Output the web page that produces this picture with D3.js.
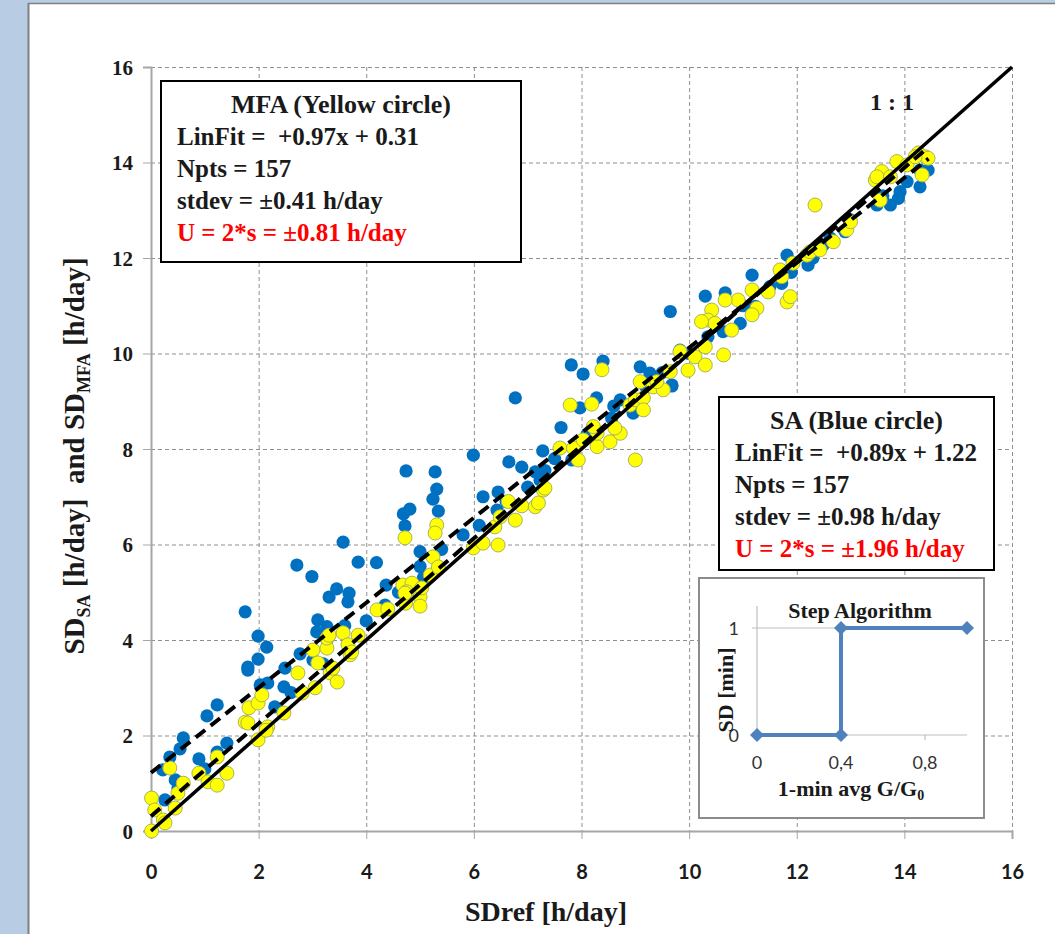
<!DOCTYPE html>
<html>
<head>
<meta charset="utf-8">
<script src="https://cdn.jsdelivr.net/npm/d3@7"></script>
<style>
  body { margin: 0; background: #ffffff; }
  svg { display: block; }
</style>
</head>
<body>
<svg id="chart" width="1055" height="934"></svg>
<script>
// ---- Sunshine duration: SA (blue) and MFA (yellow) vs reference [h/day] ----
const sdRefSA = [0.02,0.26,0.45,0.22,0.35,0.54,0.60,0.89,1.04,1.23,1.23,1.41,1.75,1.80,1.80,1.99,1.99,2.15,2.03,2.17,
  2.47,2.49,2.77,3.01,2.71,2.99,3.08,3.10,3.27,3.27,3.31,3.45,3.66,3.68,3.85,4.19,4.37,4.35,3.57,
  4.74,5.28,5.31,5.24,5.34,4.81,4.69,4.72,5.00,5.00,5.06,5.99,6.17,6.45,6.43,6.65,6.89,7.14,7.32,7.28,6.77,
  7.23,7.62,7.82,7.97,8.28,8.56,8.72,8.96,8.96,9.68,7.81,8.03,8.40,9.09,9.27,9.68,9.65,9.83,10.35,10.63,
  10.95,10.30,10.67,11.17,11.23,11.72,11.82,12.21,12.49,12.62,12.90,13.49,13.74,13.89,13.92,14.05,14.29,14.44,14.29,
  0.50,1.00,2.30,2.60,3.20,3.60,4.00,4.60,5.40,5.80,6.10,6.60,7.00,7.50,8.10,8.60,9.20,9.50,10.00,10.50,
  11.00,11.50,11.90,12.30,13.00,13.60];
const sdSA = [0.70,0.65,1.07,1.28,1.55,1.72,1.95,1.51,2.41,2.64,1.65,1.84,4.59,3.43,3.37,3.60,4.08,3.85,3.06,3.10,
  3.02,3.41,3.71,3.58,5.57,5.33,4.17,4.42,4.28,4.00,4.90,5.07,4.80,4.98,5.63,5.62,5.15,4.73,6.05,
  7.54,7.52,7.16,6.95,6.70,6.74,6.64,6.39,5.85,5.54,5.30,7.87,7.00,7.10,6.72,7.73,7.62,7.52,7.55,7.96,9.07,
  7.35,8.45,7.77,8.86,9.07,8.65,9.03,8.75,8.82,9.32,9.76,9.57,9.84,9.72,9.59,9.34,10.88,10.07,10.35,10.46,
  10.63,11.20,11.27,11.64,10.99,11.47,12.06,11.85,12.27,12.42,12.55,13.11,13.11,13.25,13.39,13.60,13.49,13.84,13.84,
  0.90,1.30,2.60,2.90,3.50,4.30,4.40,5.00,5.90,6.20,6.40,6.90,7.20,7.80,8.30,8.90,9.30,9.60,10.00,10.60,
  11.00,11.40,11.70,12.00,12.80,13.30];

const sdRefMFA = [0.01,0.01,0.07,0.23,0.26,0.45,0.50,0.60,0.35,0.89,1.06,1.23,1.41,1.23,1.99,2.17,2.14,2.47,1.75,1.80,
  1.82,1.99,2.06,2.73,2.81,3.05,3.01,3.10,3.27,3.27,3.31,3.33,3.46,3.38,3.57,3.66,3.70,3.73,3.85,4.20,
  4.40,4.68,4.85,5.00,5.00,4.75,4.73,5.19,5.31,5.28,4.72,5.24,5.34,5.03,4.72,5.99,6.17,6.45,6.39,6.49,
  6.77,6.64,6.89,7.14,7.20,7.29,7.32,7.60,7.85,8.03,7.94,8.29,8.29,8.22,8.53,8.72,8.62,9.00,7.79,8.19,
  8.90,9.00,9.15,9.15,9.33,9.52,9.40,9.09,9.65,9.83,9.98,10.11,10.30,10.30,10.64,10.42,10.35,10.48,10.23,10.79,
  10.91,10.67,11.17,11.47,11.26,11.17,11.82,11.88,11.72,11.69,11.93,12.19,12.25,12.43,12.68,12.93,13.00,12.34,13.55,13.46,
  13.58,13.49,13.74,13.86,14.05,14.26,14.39,14.44,14.33,14.20,8.38];
const sdMFA = [0.69,0.00,0.44,0.23,0.17,0.48,0.79,1.00,1.32,1.21,1.03,0.96,1.21,1.55,1.91,2.18,2.11,2.47,2.28,2.26,
  2.58,2.68,2.85,3.31,2.89,3.00,3.79,3.52,3.83,4.04,4.10,3.31,3.12,3.41,4.15,3.90,3.69,3.75,4.10,4.63,
  4.65,5.15,5.19,4.90,4.71,5.01,4.77,5.36,6.41,6.24,6.14,5.74,5.53,5.09,4.98,5.93,6.03,5.99,6.37,6.58,
  6.51,6.90,6.81,6.79,6.87,7.14,7.18,8.02,8.02,8.19,7.77,8.05,8.33,8.47,8.15,8.33,8.44,7.77,8.92,8.94,
  8.92,9.03,9.07,8.82,9.30,9.24,9.41,9.41,9.62,10.04,9.65,9.93,9.76,10.14,9.97,10.91,10.70,10.63,10.67,10.49,
  11.12,11.12,11.33,11.29,10.95,10.81,11.08,11.19,11.61,11.75,11.89,12.06,12.13,12.17,12.34,12.59,12.76,13.11,13.21,13.63,
  13.81,13.70,13.70,14.02,13.95,14.20,14.12,14.09,13.74,14.12,9.66];

// Linear fits [slope, intercept] and the SDref span they are drawn over
const saFit = [0.89, 1.22];
const mfaFit = [0.97, 0.31];
const fitSpan = [0, 14.45];
const identitySpan = [0, 16];

const axisTicks = [0, 2, 4, 6, 8, 10, 12, 14, 16];

const mfaTitle = "MFA (Yellow circle)";
const mfaLines = ["LinFit =  +0.97x + 0.31", "Npts = 157", "stdev = ±0.41 h/day", "U = 2*s = ±0.81 h/day"];
const saTitle = "SA (Blue circle)";
const saLines = ["LinFit =  +0.89x + 1.22", "Npts = 157", "stdev = ±0.98 h/day", "U = 2*s = ±1.96 h/day"];

// Step algorithm (inset)
const stepX = [0, 0.4, 0.4, 1.0];
const stepY = [0, 0, 1, 1];
const insetXTicks = [0, 0.4, 0.8];
const insetXTickLabels = ["0", "0,4", "0,8"];
const insetYTicks = [0, 1];

// ---- drawing ----
const svg = d3.select("#chart");
const W = 1055, H = 934;
const serif = "'Liberation Serif', 'Times New Roman', serif";
const sans = "Lato, 'Liberation Sans', sans-serif";

// slide frame
svg.append("rect").attr("x", 0).attr("y", 0).attr("width", W).attr("height", H).attr("fill", "#b8cce4");
svg.append("rect").attr("x", 29).attr("y", 4).attr("width", W - 29).attr("height", H - 4).attr("fill", "#ffffff");
svg.append("line").attr("x1", 28.5).attr("x2", 28.5).attr("y1", 3).attr("y2", H)
  .attr("stroke", "#7f7f7f").attr("stroke-width", 2);
svg.append("line").attr("x1", 28).attr("x2", W).attr("y1", 3.5).attr("y2", 3.5)
  .attr("stroke", "#7f7f7f").attr("stroke-width", 1.5);

const m = { left: 151, right: 1012, top: 67, bottom: 831 };
const x = d3.scaleLinear().domain([0, 16]).range([m.left, m.right]);
const y = d3.scaleLinear().domain([0, 16]).range([m.bottom, m.top]);

// dashed grid
const grid = svg.append("g").attr("stroke", "#8f8f8f").attr("stroke-width", 1).attr("stroke-dasharray", "4,3");
grid.selectAll(".gx").data(axisTicks.filter(d => d > 0)).join("line")
  .attr("x1", d => x(d) + 0.5).attr("x2", d => x(d) + 0.5).attr("y1", m.top).attr("y2", m.bottom);
grid.selectAll(".gy").data(axisTicks.filter(d => d > 0)).join("line")
  .attr("y1", d => y(d) + 0.5).attr("y2", d => y(d) + 0.5).attr("x1", m.left).attr("x2", m.right);

// axes
const yAxis = svg.append("g").attr("transform", `translate(${m.left},0)`)
  .call(d3.axisLeft(y).tickValues(axisTicks).tickSize(8).tickPadding(10).tickFormat(d3.format("d")));
yAxis.select(".domain").attr("stroke", "#a6a6a6").attr("stroke-width", 2);
yAxis.selectAll(".tick line").attr("stroke", "#a6a6a6");
yAxis.selectAll("text").attr("font-family", serif).attr("font-weight", "bold").attr("font-size", 21)
  .attr("fill", "#1a1a1a").attr("dy", "0.35em");

const xAxis = svg.append("g").attr("transform", `translate(0,${m.bottom})`)
  .call(d3.axisBottom(x).tickValues(axisTicks).tickSize(8).tickPadding(26).tickFormat(d3.format("d")));
xAxis.select(".domain").attr("stroke", "#a6a6a6").attr("stroke-width", 2);
xAxis.selectAll(".tick line").attr("stroke", "#a6a6a6");
xAxis.selectAll("text").attr("font-family", sans).attr("font-weight", "bold").attr("font-size", 20)
  .attr("fill", "#1a1a1a");

// axis titles
svg.append("text").attr("x", 546).attr("y", 921).attr("text-anchor", "middle")
  .attr("font-family", serif).attr("font-weight", "bold").attr("font-size", 28).attr("fill", "#1a1a1a")
  .text("SDref [h/day]");

const yTitle = svg.append("text").attr("transform", "translate(84,456) rotate(-90)")
  .attr("text-anchor", "middle").attr("font-family", serif).attr("font-weight", "bold")
  .attr("font-size", 29).attr("fill", "#1a1a1a");
yTitle.append("tspan").text("SD");
yTitle.append("tspan").attr("font-size", 18).attr("dy", 6).text("SA");
yTitle.append("tspan").attr("dy", -6).text(" [h/day]\u00a0\u00a0and SD");
yTitle.append("tspan").attr("font-size", 18).attr("dy", 6).text("MFA");
yTitle.append("tspan").attr("dy", -6).text(" [h/day]");

// scatter points: SA first, MFA on top
svg.append("g").selectAll("circle").data(d3.range(sdRefSA.length)).join("circle")
  .attr("cx", i => x(sdRefSA[i])).attr("cy", i => y(sdSA[i])).attr("r", 6.6)
  .attr("fill", "#0070c0");
svg.append("g").selectAll("circle").data(d3.range(sdRefMFA.length)).join("circle")
  .attr("cx", i => x(sdRefMFA[i])).attr("cy", i => y(sdMFA[i])).attr("r", 7)
  .attr("fill", "#ffff00").attr("stroke", "#a9b35a").attr("stroke-width", 1);

// 1:1 line and fits
const line = d3.line().x(d => x(d[0])).y(d => y(d[1]));
svg.append("path").datum(identitySpan.map(v => [v, v])).attr("d", line)
  .attr("stroke", "#000").attr("stroke-width", 3.5).attr("fill", "none");
[saFit, mfaFit].forEach(f => {
  svg.append("path").datum(fitSpan.map(v => [v, f[0] * v + f[1]])).attr("d", line)
    .attr("stroke", "#000").attr("stroke-width", 4).attr("stroke-dasharray", "12,7").attr("fill", "none");
});

svg.append("text").attr("x", 892).attr("y", 110).attr("text-anchor", "middle")
  .attr("font-family", serif).attr("font-weight", "bold").attr("font-size", 24).attr("fill", "#1a1a1a")
  .text("1 : 1");

// statistics boxes
function statBox(bx, by, bw, bh, title, lines, titleBase, lineX) {
  const g = svg.append("g");
  g.append("rect").attr("x", bx).attr("y", by).attr("width", bw).attr("height", bh)
    .attr("fill", "#fff").attr("stroke", "#000").attr("stroke-width", 2);
  g.append("text").attr("x", bx + bw / 2).attr("y", titleBase).attr("text-anchor", "middle")
    .attr("font-family", serif).attr("font-weight", "bold").attr("font-size", 26).attr("fill", "#1a1a1a")
    .text(title);
  g.selectAll(".ln").data(lines).join("text")
    .attr("x", lineX).attr("y", (d, i) => titleBase + 32 * (i + 1))
    .attr("font-family", serif).attr("font-weight", "bold").attr("font-size", 25)
    .attr("fill", (d, i) => i === lines.length - 1 ? "#ff0000" : "#1a1a1a")
    .attr("xml:space", "preserve").style("white-space", "pre")
    .text(d => d);
}
statBox(161, 81, 360, 181, mfaTitle, mfaLines, 113, 177);
statBox(719, 397, 275, 173, saTitle, saLines, 429, 735);

// inset: step algorithm
const ins = svg.append("g");
ins.append("rect").attr("x", 699).attr("y", 578).attr("width", 285).attr("height", 240)
  .attr("fill", "#fff").attr("stroke", "#8c8c8c").attr("stroke-width", 2);
const ix = d3.scaleLinear().domain([0, 1]).range([757, 967]);
const iy = d3.scaleLinear().domain([0, 1]).range([735, 628]);

ins.append("line").attr("x1", ix(0)).attr("x2", ix(0)).attr("y1", 606).attr("y2", iy(0))
  .attr("stroke", "#bfbfbf").attr("stroke-width", 1.2);
ins.selectAll(".iyt").data(insetYTicks).join("line")
  .attr("x1", ix(0) - 5).attr("x2", ix(1)).attr("y1", d => iy(d)).attr("y2", d => iy(d))
  .attr("stroke", "#bfbfbf").attr("stroke-width", 1.2);
ins.selectAll(".ixt").data(insetXTicks.slice(1)).join("line")
  .attr("x1", d => ix(d)).attr("x2", d => ix(d)).attr("y1", iy(0)).attr("y2", iy(0) + 5)
  .attr("stroke", "#bfbfbf").attr("stroke-width", 1.2);
ins.selectAll(".ixl").data(insetXTicks).join("text")
  .attr("x", d => ix(d)).attr("y", 769).attr("text-anchor", "middle")
  .attr("font-family", sans).attr("font-size", 18).attr("fill", "#333")
  .text((d, i) => insetXTickLabels[i]);
ins.selectAll(".iyl").data(insetYTicks).join("text")
  .attr("x", 739).attr("y", d => iy(d) + 7).attr("text-anchor", "end")
  .attr("font-family", sans).attr("font-size", 18).attr("fill", "#333")
  .text(d => d);

ins.append("path").datum(stepX.map((v, i) => [v, stepY[i]]))
  .attr("d", d3.line().x(d => ix(d[0])).y(d => iy(d[1])))
  .attr("stroke", "#4f81bd").attr("stroke-width", 4).attr("fill", "none");
ins.selectAll(".mk").data(stepX.map((v, i) => [v, stepY[i]])).join("path")
  .attr("d", d3.symbol(d3.symbolSquare, 98)())
  .attr("transform", d => `translate(${ix(d[0])},${iy(d[1])}) rotate(45)`)
  .attr("fill", "#4f81bd");

ins.append("text").attr("x", 860).attr("y", 618).attr("text-anchor", "middle")
  .attr("font-family", serif).attr("font-weight", "bold").attr("font-size", 22).attr("fill", "#1a1a1a")
  .text("Step Algorithm");
const ixTitle = ins.append("text").attr("x", 851).attr("y", 796).attr("text-anchor", "middle")
  .attr("font-family", serif).attr("font-weight", "bold").attr("font-size", 22).attr("fill", "#1a1a1a");
ixTitle.append("tspan").text("1-min avg G/G");
ixTitle.append("tspan").attr("font-size", 14).attr("dy", 4).text("0");
ins.append("text").attr("transform", "translate(733,690) rotate(-90)").attr("text-anchor", "middle")
  .attr("font-family", serif).attr("font-weight", "bold").attr("font-size", 22).attr("fill", "#1a1a1a")
  .text("SD [min]");
</script>
</body>
</html>
